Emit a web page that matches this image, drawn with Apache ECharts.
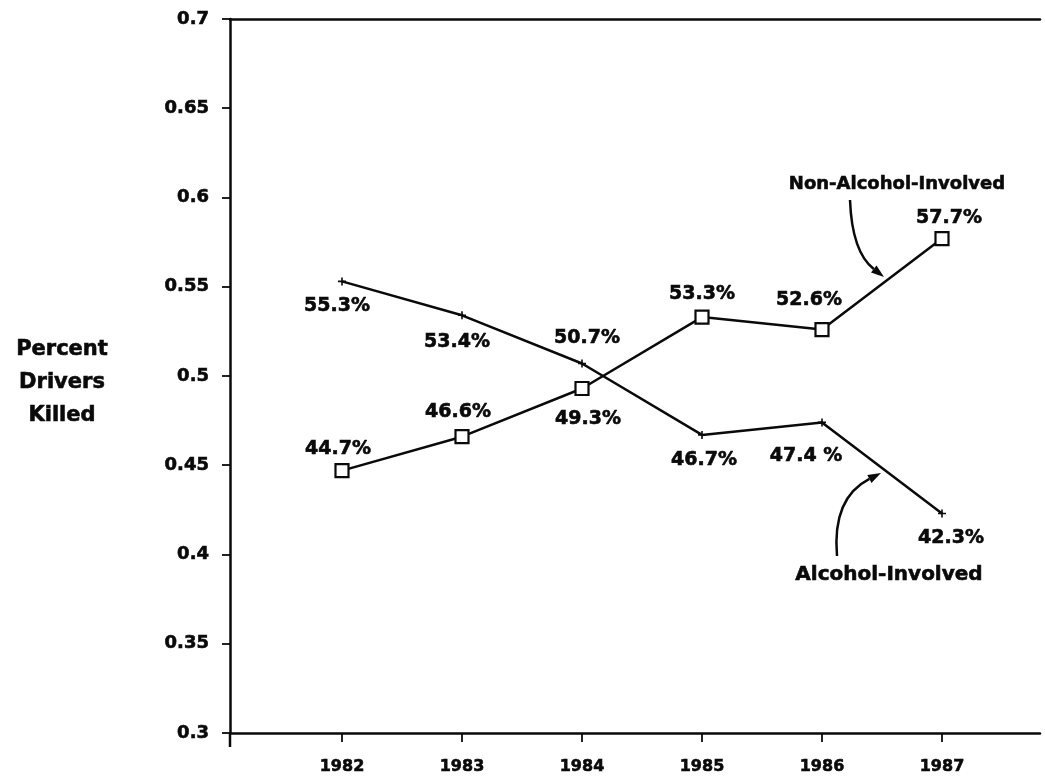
<!DOCTYPE html>
<html>
<head>
<meta charset="utf-8">
<script src="https://cdn.jsdelivr.net/npm/echarts@6/dist/echarts.min.js"></script>
<style>html,body{margin:0;padding:0;background:#fff}#c{width:1045px;height:783px}</style>
</head>
<body>
<div id="c"></div>
<script>
// ---- data ----
const years = [1982, 1983, 1984, 1985, 1986, 1987];
const alcohol = [55.3, 53.4, 50.7, 46.7, 47.4, 42.3];
const nonAlcohol = [44.7, 46.6, 49.3, 53.3, 52.6, 57.7];
const alcoholLabels = ['55.3%', '53.4%', '50.7%', '46.7%', '47.4 %', '42.3%'];
const nonAlcoholLabels = ['44.7%', '46.6%', '49.3%', '53.3%', '52.6%', '57.7%'];
const yTickLabels = ['0.3', '0.35', '0.4', '0.45', '0.5', '0.55', '0.6', '0.65', '0.7'];

// ---- styling (label offsets relative to point) ----
const alcoholOffsets = [[-5, 25], [-5, 27], [5, -25], [2, 25], [-16, 34], [9, 25]];
const nonAlcoholOffsets = [[-4, -22], [-4, -25], [6, 31], [0, -23], [-13, -30], [7, -20]];
const FONT = 'DejaVu Sans';
const INK = '#0a0a0a';
const heavy = { textBorderColor: INK, textBorderWidth: 0.6 };
const labelStyle = { fontFamily: FONT, fontWeight: 'bold', fontSize: 19, color: INK, ...heavy };

function buildData(values, labels, offsets) {
  return values.map((v, i) => ({
    value: [years[i], v / 100],
    label: { show: true, position: 'inside', offset: offsets[i], formatter: labels[i], ...labelStyle }
  }));
}

const chart = echarts.init(document.getElementById('c'), null, { renderer: 'canvas' });
const xMin = 1981.0667, xMax = 1987.8167;

function arrow(x1, y1, cx, cy, x2, y2) {
  const dx = x2 - cx, dy = y2 - cy, len = Math.hypot(dx, dy);
  const ux = dx / len, uy = dy / len;
  const bx = x2 - ux * 13, by = y2 - uy * 13;
  const px = -uy * 4.5, py = ux * 4.5;
  return [
    { type: 'bezierCurve', shape: { x1, y1, x2: bx, y2: by, cpx1: cx, cpy1: cy },
      style: { stroke: INK, lineWidth: 2.5, fill: null }, z: 10 },
    { type: 'polygon', shape: { points: [[x2, y2], [bx + px, by + py], [bx - px, by - py]] },
      style: { fill: INK }, z: 10 }
  ];
}

const option = {
  animation: false,
  backgroundColor: '#fff',
  grid: { left: 230, top: 19, right: 5, bottom: 50, containLabel: false },
  xAxis: [{
    type: 'value', min: xMin, max: xMax, position: 'bottom',
    axisLine: { show: true, lineStyle: { color: INK, width: 2.5 } },
    axisTick: { show: true, customValues: years, length: 9, inside: false, lineStyle: { color: INK, width: 1.8 } },
    axisLabel: { show: true, customValues: years, formatter: v => String(Math.round(v)), margin: 26,
      fontFamily: FONT, fontWeight: 'bold', fontSize: 16, color: INK, ...heavy },
    splitLine: { show: false }
  }, {
    type: 'value', min: xMin, max: xMax, position: 'top',
    axisLine: { show: true, lineStyle: { color: INK, width: 2.5 } },
    axisTick: { show: false }, axisLabel: { show: false }, splitLine: { show: false }
  }],
  yAxis: {
    type: 'value', min: 0.3, max: 0.7, interval: 0.05,
    axisLine: { show: true, lineStyle: { color: INK, width: 2.5 } },
    axisTick: { show: true, length: 8, inside: false, lineStyle: { color: INK, width: 1.8 } },
    axisLabel: { margin: 21, fontFamily: FONT, fontWeight: 'bold', fontSize: 18, color: INK, ...heavy,
      formatter: v => { const i = Math.round((v - 0.3) / 0.05); return yTickLabels[i] ?? ''; } },
    splitLine: { show: false }
  },
  series: [{
    name: 'Alcohol-Involved', type: 'line',
    data: buildData(alcohol, alcoholLabels, alcoholOffsets),
    symbol: 'path://M-1,-5H1V-1H5V1H1V5H-1V1H-5V-1H-1Z', symbolSize: 8,
    lineStyle: { color: INK, width: 2.5 }, itemStyle: { color: INK }, z: 3
  }, {
    name: 'Non-Alcohol-Involved', type: 'line',
    data: buildData(nonAlcohol, nonAlcoholLabels, nonAlcoholOffsets),
    symbol: 'rect', symbolSize: 13,
    lineStyle: { color: INK, width: 2.5 },
    itemStyle: { color: '#fff', borderColor: INK, borderWidth: 2.2 }, z: 4
  }],
  graphic: [
    { type: 'text', x: 62, y: 333, style: { text: 'Percent\nDrivers\nKilled', fontFamily: FONT, fontWeight: 'bold',
      fontSize: 21, lineHeight: 33, fill: INK, stroke: INK, lineWidth: 0.6, align: 'center' } },
    { type: 'text', x: 897, y: 184, style: { text: 'Non-Alcohol-Involved', fontFamily: FONT, fontWeight: 'bold',
      fontSize: 18, fill: INK, stroke: INK, lineWidth: 0.6, align: 'center', verticalAlign: 'middle' } },
    { type: 'text', x: 889, y: 575, style: { text: 'Alcohol-Involved', fontFamily: FONT, fontWeight: 'bold',
      fontSize: 20, fill: INK, stroke: INK, lineWidth: 0.6, align: 'center', verticalAlign: 'middle' } },
    { type: 'line', shape: { x1: 230, y1: 733, x2: 230, y2: 747 }, style: { stroke: INK, lineWidth: 2.5 } },
    ...arrow(850, 200, 852, 252, 884, 277),
    ...arrow(837, 556, 832, 498, 881, 473)
  ]
};
chart.setOption(option);
</script>
</body>
</html>
